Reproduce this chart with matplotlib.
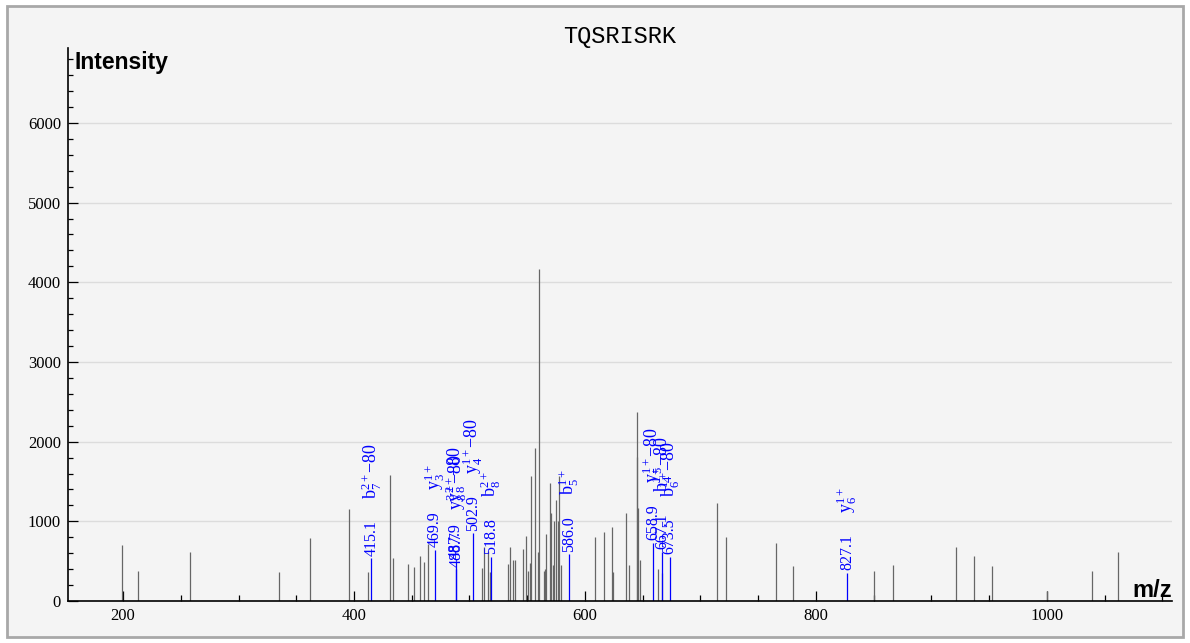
import numpy as np
import matplotlib.pyplot as plt
from matplotlib.patches import Rectangle
from matplotlib.ticker import MultipleLocator

plt.rcParams['mathtext.fontset'] = 'custom'
plt.rcParams['mathtext.rm'] = 'Liberation Serif'
plt.rcParams['mathtext.it'] = 'Liberation Serif:italic'
plt.rcParams['mathtext.bf'] = 'Liberation Serif:bold'

title = 'TQSRISRK'

# unannotated peaks (m/z, intensity)
peak_mz = [199.4, 213.3, 258.1, 335.2, 361.8, 395.3, 411.9, 431.1, 433.7, 446.6,
           452.2, 456.9, 460.7, 464.1, 510.5, 512.4, 515.7, 517.4, 533.1, 535.1,
           537.4, 539.2, 546.2, 549.1, 550.8, 552.2, 553.4, 557.1, 559.1, 560.4,
           564.3, 565.5, 566.1, 569.3, 571.0, 572.1, 573.0, 575.1, 576.4, 577.9,
           579.4, 609.0, 616.6, 623.2, 624.4, 635.9, 638.3, 644.9, 645.3, 645.8,
           648.1, 663.4, 666.9, 714.2, 722.0, 765.1, 780.1, 850.5, 867.1, 921.1,
           937.0, 952.1, 1000.3, 1038.8, 1061.3]
peak_int = [700, 380, 611, 368, 786, 1154, 368, 1575, 535, 460,
            423, 562, 487, 715, 412, 674, 631, 368, 464, 674,
            514, 514, 650, 816, 376, 477, 1570, 1924, 611, 4162,
            376, 401, 836, 1487, 1104, 456, 1004, 1263, 1000, 1570,
            452, 807, 866, 932, 368, 1100, 456, 2368, 1811, 1163,
            514, 401, 355, 1226, 807, 732, 439, 376, 452, 674,
            569, 443, 125, 380, 611]

# annotated fragment peaks
ann_mz = [415.1, 469.9, 487.9, 488.7, 502.9, 518.8, 586.0, 658.9, 667.1, 673.5, 827.1]
ann_int = [535, 645, 494, 398, 849, 556, 585, 732, 619, 556, 355]
ann_ion = [r'b$_7^{2+}$$-$80', r'y$_3^{1+}$', r'y$_8^{2+}$$-$80', r'y$_8^{3+}$$-$80',
           r'y$_4^{1+}$$-$80', r'b$_8^{2+}$', r'b$_5^{1+}$', r'y$_5^{1+}$$-$80',
           r'b$_4^{1+}$$-$80', r'b$_6^{1+}$$-$80', r'y$_6^{1+}$']

W, H = 1190, 643
fig = plt.figure(figsize=(W / 100, H / 100), dpi=100)
fig.patch.set_facecolor('white')
fig.patches.append(Rectangle((7 / W, 6 / H), (1183 - 7) / W, (637 - 6) / H,
                             transform=fig.transFigure, facecolor='#f4f4f4',
                             edgecolor='#a8a8a8', lw=2, zorder=-10))

ax = fig.add_axes([68 / W, 1 - 601 / H, (1172 - 68) / W, (601 - 48) / H])
ax.set_facecolor('none')
ax.set_xlim(152.3, 1108.4)
ax.set_ylim(0, 6940)

ax.vlines(peak_mz, 0, peak_int, color='#666666', lw=0.9)
ax.vlines(ann_mz, 0, ann_int, color='#0000ff', lw=0.9)

for mz, inten, ion in zip(ann_mz, ann_int, ann_ion):
    ax.annotate(f'{mz:.1f}', (mz, inten), xytext=(0, 2), textcoords='offset points',
                rotation=90, ha='center', va='bottom', color='#0000ff',
                fontsize=11.5, family='Liberation Serif')
    ax.annotate(ion, (mz, inten), xytext=(0, 43), textcoords='offset points',
                rotation=90, ha='center', va='bottom', color='#0000ff',
                fontsize=13, family='Liberation Serif')

ax.yaxis.grid(True, color='#dcdcdc', lw=1)
ax.set_axisbelow(True)
ax.xaxis.set_major_locator(MultipleLocator(200))
ax.xaxis.set_minor_locator(MultipleLocator(50))
ax.yaxis.set_major_locator(MultipleLocator(1000))
ax.yaxis.set_minor_locator(MultipleLocator(200))
ax.tick_params(which='both', direction='in', width=0.9, color='black')
ax.tick_params(axis='x', which='major', length=7, pad=5)
ax.tick_params(axis='x', which='minor', length=4.3)
ax.tick_params(axis='y', which='major', length=7, pad=5)
ax.tick_params(axis='y', which='minor', length=3.6)
for lab in ax.get_xticklabels() + ax.get_yticklabels():
    lab.set_fontfamily('Liberation Serif')
    lab.set_fontsize(12)

for s in ['top', 'right']:
    ax.spines[s].set_visible(False)
for s in ['left', 'bottom']:
    ax.spines[s].set_linewidth(1.2)

fig.text(620 / W, 1 - 36 / H, title, ha='center', va='center',
         family='Liberation Mono', fontsize=17)
fig.text(75 / W, 1 - 62 / H, 'Intensity', ha='left', va='center',
         family='Liberation Sans', fontweight='bold', fontsize=16.5)
fig.text(1172 / W, 1 - 597 / H, 'm/z', ha='right', va='baseline',
         family='Liberation Sans', fontweight='bold', fontsize=17)

fig.savefig('out.png', dpi=100)
